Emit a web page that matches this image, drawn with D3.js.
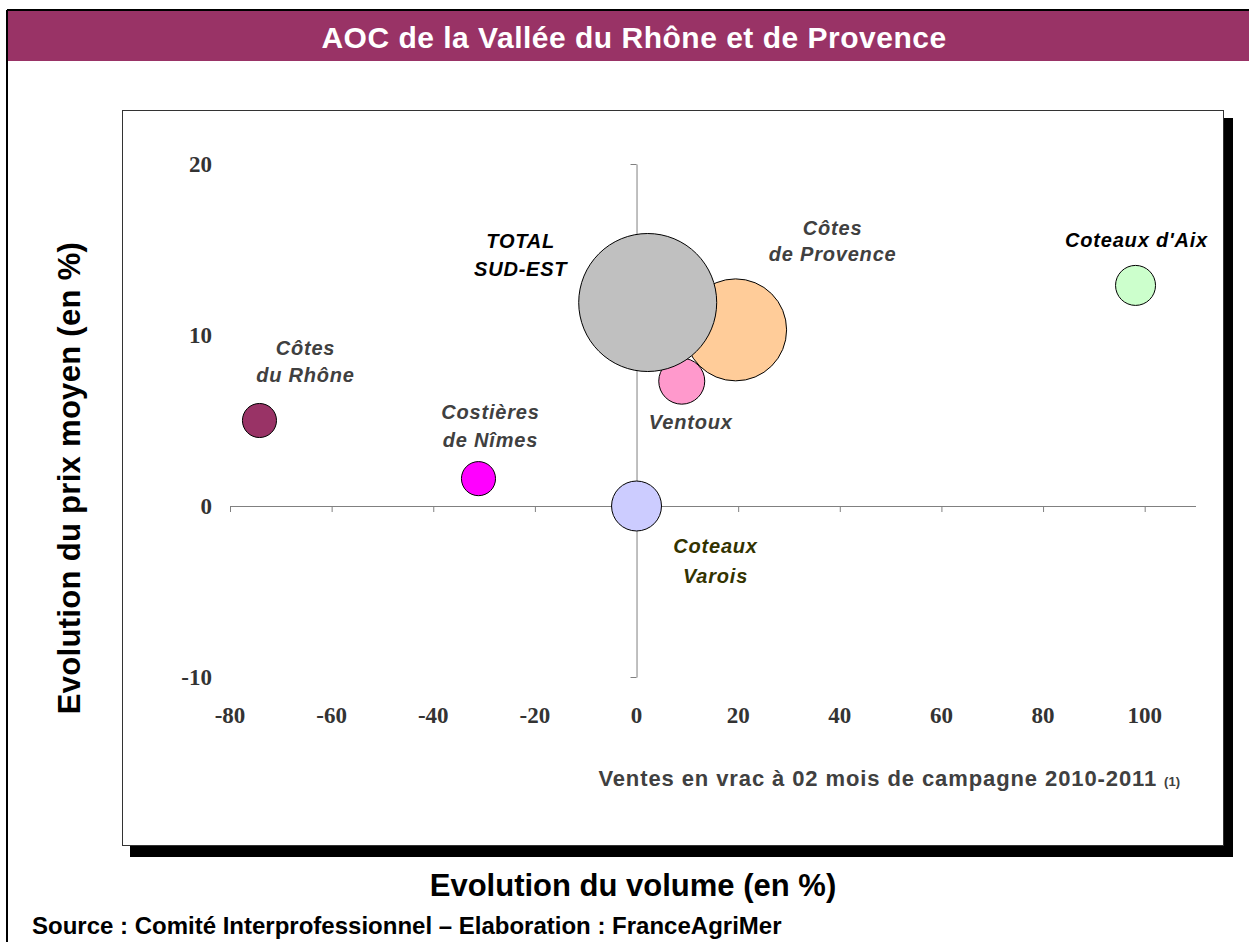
<!DOCTYPE html>
<html>
<head>
<meta charset="utf-8">
<script src="https://cdn.jsdelivr.net/npm/d3@7"></script>
<style>
  body { margin: 0; background: #fff; }
  svg { display: block; }
</style>
</head>
<body>
<div id="chart"></div>
<script>
// appellations and their bubble values
var names = ['Côtes du Rhône', 'Costières de Nîmes', 'Coteaux Varois', 'Ventoux',
             'Côtes de Provence', 'TOTAL SUD-EST', "Coteaux d'Aix"];
var volumeEvol = [-74.2, -31.1, 0, 8.9, 19.5, 2.2, 98.2];   // x, %
var priceEvol = [5.0, 1.6, 0, 7.3, 10.3, 11.9, 12.9];        // y, %
var bubbleSize = [6.1, 6.1, 13.1, 11.1, 54.6, 100, 8.4];
var xTicks = [-80, -60, -40, -20, 0, 20, 40, 60, 80, 100];
var yTicks = [-10, 0, 10, 20];

// label layout (lines, offsets from bubble in px) - not data
var labelLines = [['Côtes', 'du Rhône'], ['Costières', 'de Nîmes'], ['Coteaux', 'Varois'],
                  ['Ventoux'], ['Côtes', 'de Provence'], ['TOTAL', 'SUD-EST'], ["Coteaux d'Aix"]];
var labelDx = [46, 12, 79, 9, 97, -127, 1];
var labelDy = [-66, -60, 47, 48, -95, -55, -38];
var labelLh = [27, 28, 30, 0, 26, 28, 0];
var labelColor = ['#404040', '#404040', '#333300', '#404040', '#404040', '#000', '#000'];
var fills = ['#993366', '#FF00FF', '#CCCCFF', '#FF99CC', '#FFCC99', '#C0C0C0', '#CCFFCC'];

var width = 1249, height = 942;

var svg = d3.select('#chart').append('svg')
            .attr('width', width)
            .attr('height', height);

// outer frame + title band
svg.append('line').attr('x1', 7).attr('x2', 7).attr('y1', 10).attr('y2', height)
   .attr('stroke', '#000').attr('stroke-width', 2);
svg.append('line').attr('x1', 7).attr('x2', width).attr('y1', 10).attr('y2', 10)
   .attr('stroke', '#000').attr('stroke-width', 2);
svg.append('rect').attr('x', 8).attr('y', 11).attr('width', width - 8).attr('height', 50)
   .attr('fill', '#993366');
svg.append('text')
   .attr('x', 634).attr('y', 48)
   .attr('text-anchor', 'middle')
   .attr('fill', '#fff')
   .style('font', 'bold 30px "Liberation Sans", Arial, sans-serif')
   .style('letter-spacing', '0.5px')
   .text('AOC de la Vallée du Rhône et de Provence');

// plot box with shadow
svg.append('rect').attr('x', 130).attr('y', 118).attr('width', 1103).attr('height', 739)
   .attr('fill', '#000');
svg.append('rect').attr('x', 122.5).attr('y', 110.5).attr('width', 1101).attr('height', 735)
   .attr('fill', '#fff').attr('stroke', '#333').attr('stroke-width', 1);

var x = d3.scaleLinear().domain([-80, 110]).range([230, 1195.5]);
var y = d3.scaleLinear().domain([-10, 20]).range([677, 164]);
var r = d3.scaleSqrt().domain([0, 100]).range([0, 69]);

var axisColor = '#808080';

// x axis through y = 0
var gx = svg.append('g').attr('transform', 'translate(0,' + y(0) + ')');
gx.call(d3.axisBottom(x).tickValues(xTicks).tickSize(6).tickSizeOuter(0).tickFormat(''));
gx.selectAll('path, line').attr('stroke', axisColor);

// y axis through x = 0
var gy = svg.append('g').attr('transform', 'translate(' + x(0) + ',0)');
gy.call(d3.axisLeft(y).tickValues(yTicks).tickSize(6).tickSizeOuter(0).tickFormat(''));
gy.selectAll('path, line').attr('stroke', axisColor);

var tickFont = 'bold 23px "Liberation Serif", "Times New Roman", serif';

svg.append('g').selectAll('text')
   .data(xTicks).enter().append('text')
   .attr('x', d => x(d)).attr('y', 723)
   .attr('text-anchor', 'middle')
   .attr('fill', '#333')
   .style('font', tickFont)
   .text(d => d);

svg.append('g').selectAll('text')
   .data(yTicks).enter().append('text')
   .attr('x', 212).attr('y', d => y(d) + 8)
   .attr('text-anchor', 'end')
   .attr('fill', '#333')
   .style('font', tickFont)
   .text(d => d);

// bubbles
var idx = d3.range(names.length);
svg.append('g').selectAll('circle')
   .data(idx).enter().append('circle')
   .attr('cx', i => x(volumeEvol[i]))
   .attr('cy', i => y(priceEvol[i]))
   .attr('r', i => r(bubbleSize[i]))
   .attr('fill', i => fills[i])
   .attr('stroke', '#000')
   .attr('stroke-width', 1);

// labels
var lab = svg.append('g').selectAll('text')
   .data(idx).enter().append('text')
   .attr('text-anchor', 'middle')
   .attr('fill', i => labelColor[i])
   .style('font', 'italic bold 20px "Liberation Sans", Arial, sans-serif')
   .style('letter-spacing', '0.8px');

lab.each(function(i) {
  var t = d3.select(this);
  var cx = x(volumeEvol[i]) + labelDx[i];
  var cy = y(priceEvol[i]) + labelDy[i];
  labelLines[i].forEach(function(line, k) {
    t.append('tspan').attr('x', cx).attr('y', cy + k * labelLh[i]).text(line);
  });
});

// note in plot
var note = svg.append('text')
   .attr('x', 1180).attr('y', 786)
   .attr('text-anchor', 'end')
   .attr('fill', '#404040')
   .style('font', 'bold 22px "Liberation Sans", Arial, sans-serif')
   .style('letter-spacing', '0.9px');
note.append('tspan').text('Ventes en vrac à 02 mois de campagne 2010-2011 ');
note.append('tspan').style('font-size', '13px').style('letter-spacing', '0px').text('(1)');

// axis titles
svg.append('text')
   .attr('transform', 'translate(80,478) rotate(-90)')
   .attr('text-anchor', 'middle')
   .attr('fill', '#000')
   .style('font', 'bold 31px "Liberation Sans", Arial, sans-serif')
   .style('letter-spacing', '0.3px')
   .text('Evolution du prix moyen (en %)');

svg.append('text')
   .attr('x', 633).attr('y', 896)
   .attr('text-anchor', 'middle')
   .attr('fill', '#000')
   .style('font', 'bold 31px "Liberation Sans", Arial, sans-serif')
   .text('Evolution du volume (en %)');

svg.append('text')
   .attr('x', 32).attr('y', 934)
   .attr('fill', '#000')
   .style('font', 'bold 24px "Liberation Sans", Arial, sans-serif')
   .text('Source : Comité Interprofessionnel – Elaboration : FranceAgriMer');
</script>
</body>
</html>
